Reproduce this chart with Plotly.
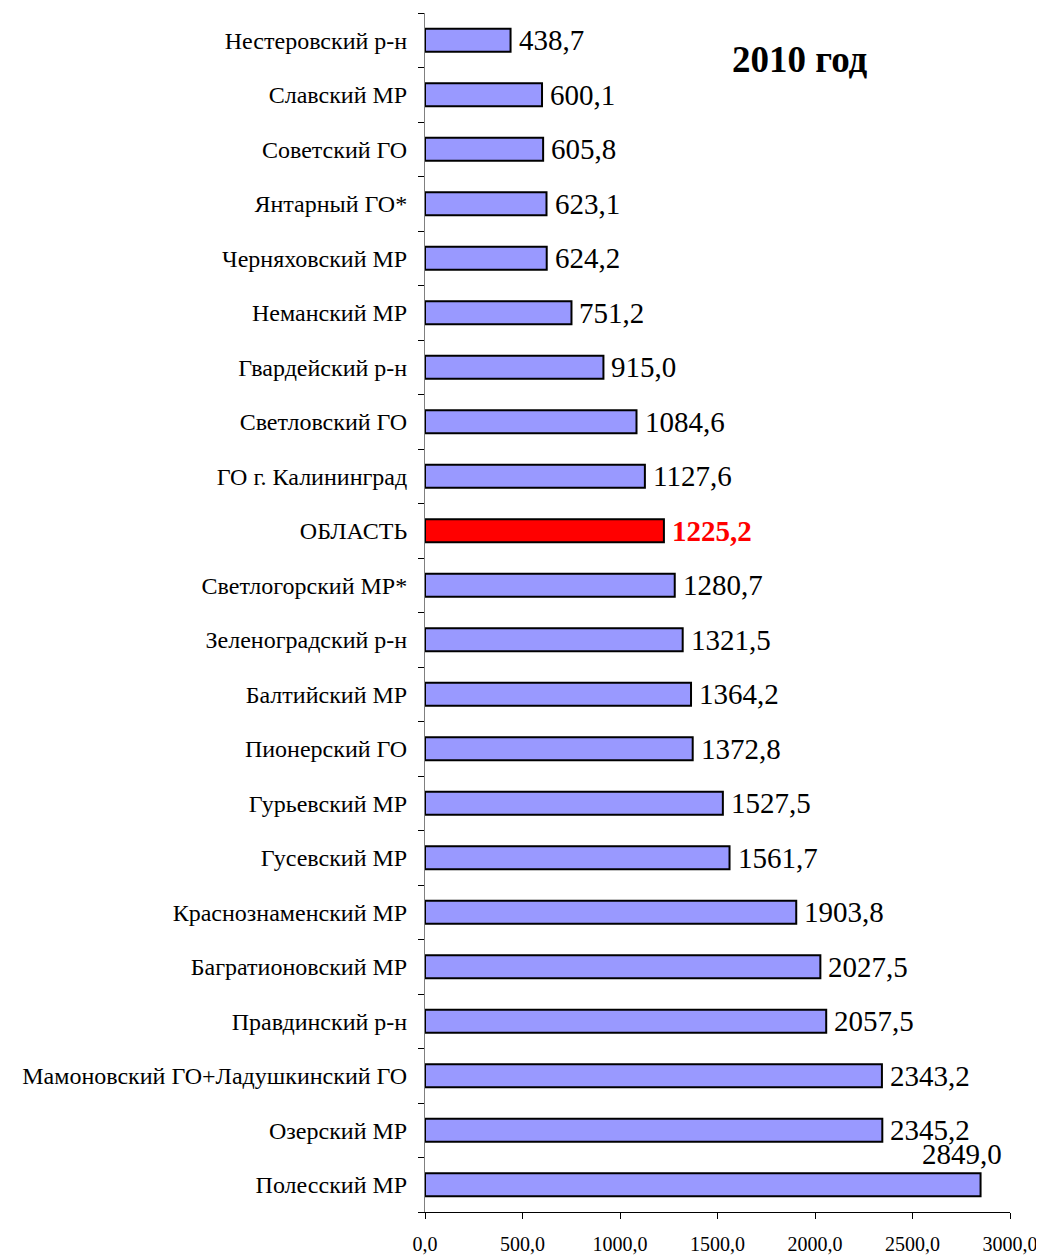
import plotly.graph_objects as go

# districts, top to bottom as in the picture
districts = [
    'Нестеровский р-н', 'Славский МР', 'Советский ГО', 'Янтарный ГО*',
    'Черняховский МР', 'Неманский МР', 'Гвардейский р-н', 'Светловский ГО',
    'ГО г. Калининград', 'ОБЛАСТЬ', 'Светлогорский МР*', 'Зеленоградский р-н',
    'Балтийский МР', 'Пионерский ГО', 'Гурьевский МР', 'Гусевский МР',
    'Краснознаменский МР', 'Багратионовский МР', 'Правдинский р-н',
    'Мамоновский ГО+Ладушкинский ГО', 'Озерский МР', 'Полесский МР',
]
values = [
    438.7, 600.1, 605.8, 623.1, 624.2, 751.2, 915.0, 1084.6, 1127.6, 1225.2,
    1280.7, 1321.5, 1364.2, 1372.8, 1527.5, 1561.7, 1903.8, 2027.5, 2057.5,
    2343.2, 2345.2, 2849.0,
]
x_ticks = [0, 500, 1000, 1500, 2000, 2500, 3000]
x_tick_labels = ['0,0', '500,0', '1000,0', '1500,0', '2000,0', '2500,0', '3000,0']

highlight = 'ОБЛАСТЬ'


def comma(v):
    return f'{v:.1f}'.replace('.', ',')


colors = ['#FF0000' if d == highlight else '#9999FF' for d in districts]

fig = go.Figure(go.Bar(
    x=values,
    y=districts,
    orientation='h',
    marker=dict(color=colors, line=dict(color='black', width=2)),
    width=0.42,
))

# value labels next to the bars
for d, v in zip(districts, values):
    if d == highlight:
        font = dict(family='Liberation Serif', size=29, color='#FF0000')
        txt = '<b>' + comma(v) + '</b>'
    else:
        font = dict(family='Liberation Serif', size=29, color='black')
        txt = comma(v)
    if v > 2700:
        # last one does not fit, sits above the bar
        fig.add_annotation(x=v, y=d, text=txt, showarrow=False, font=font,
                           xanchor='right', xshift=23, yshift=31)
    else:
        fig.add_annotation(x=v, y=d, text=txt, showarrow=False, font=font,
                           xanchor='left', xshift=6)

fig.add_annotation(
    x=0.641, y=0.961, xref='paper', yref='paper',
    text='<b>2010 год</b>', showarrow=False,
    font=dict(family='Liberation Serif', size=37, color='black'),
    xanchor='center', yanchor='middle',
)

fig.update_layout(
    width=1044,
    height=1256,
    margin=dict(l=417, r=42, t=5, b=52),
    plot_bgcolor='white',
    paper_bgcolor='white',
    showlegend=False,
    font=dict(family='Liberation Serif', color='black'),
    xaxis=dict(
        range=[0, 3000],
        tickvals=x_ticks,
        ticktext=x_tick_labels,
        showgrid=False,
        zeroline=False,
        showline=True,
        linecolor='black',
        linewidth=1,
        ticks='outside',
        ticklen=6,
        tickcolor='black',
        ticklabelstandoff=8,
        tickfont=dict(family='Liberation Serif', size=20),
    ),
    yaxis=dict(
        categoryorder='array',
        categoryarray=districts[::-1],
        autorange=False,
        range=[-0.5, len(districts) - 0.5],
        showgrid=False,
        showline=True,
        linecolor='#808080',
        linewidth=1,
        ticks='outside',
        tickson='boundaries',
        ticklen=6,
        tickcolor='black',
        ticklabelstandoff=12,
        tickfont=dict(family='Liberation Serif', size=24),
    ),
)

fig.write_html('out.html')
